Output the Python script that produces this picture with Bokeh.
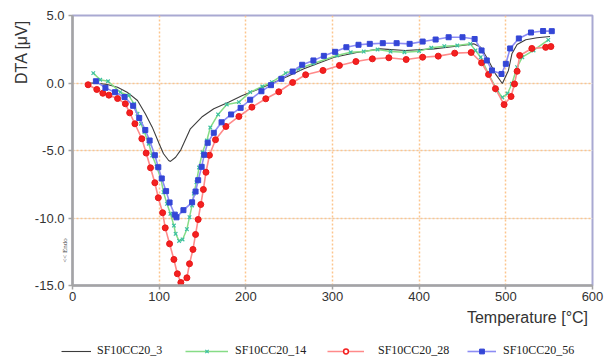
from bokeh.plotting import figure
from bokeh.layouts import column
from bokeh.models import Range1d, FixedTicker, Legend, LegendItem, LinearAxis, Grid, Title, Label
from bokeh.embed import file_html
from bokeh.resources import INLINE

# ---- data ----
x_ticks = [0, 100, 200, 300, 400, 500, 600]
x_tick_labels = ["0", "100", "200", "300", "400", "500", "600"]
y_ticks = [-15, -10, -5, 0, 5]
y_tick_labels = ["-15.0", "-10.0", "-5.0", "0.0", "5.0"]
endo_pos = [-12.4]
endo_text = ["<< Endo"]

series_names = ["SF10CC20_3", "SF10CC20_14", "SF10CC20_28", "SF10CC20_56"]

black_t = [21, 27, 40, 52, 63, 75, 84, 92, 100, 105, 111, 113, 119, 125, 136, 150, 163, 180, 196, 213,
           229, 246, 267, 302, 328, 355, 384, 417, 445, 463, 471, 480, 488, 496, 503, 507, 513, 523, 536, 551]
black_v = [0.0, -0.01, -0.11, -0.31, -0.68, -1.30, -2.28, -3.27, -4.50, -5.24, -5.74, -5.81, -5.50, -4.95, -3.39,
           -2.48, -1.91, -1.42, -0.93, -0.50, -0.06, 0.43, 1.05, 1.91, 2.26, 2.53, 2.41, 2.53, 2.74, 2.90,
           2.65, 1.67, 0.68, -0.04, 0.93, 2.16, 2.85, 3.20, 3.35, 3.44]

green_t = [24, 32, 41, 55, 65, 71, 75, 79, 83, 88, 92, 97, 102, 105, 109, 113, 117, 119, 123, 127,
           132, 135, 138, 140, 143, 146, 150, 155, 159, 168, 178, 192, 205, 219, 230, 246, 261, 278, 305, 321,
           336, 352, 367, 383, 400, 414, 429, 444, 459, 465, 471, 480, 490, 496, 502, 507, 513, 519, 532, 549]
green_v = [0.73, 0.24, 0.13, -0.68, -0.93, -1.54, -2.28, -3.02, -3.64, -4.50, -5.37, -6.19, -7.10, -8.09, -8.95,
           -9.69, -10.56, -11.17, -11.70, -11.59, -10.83, -9.94, -9.07, -8.19, -7.35, -6.26, -5.13, -4.26, -3.30,
           -2.33, -1.59, -1.42, -0.68, -0.26, 0.06, 0.73, 1.05, 1.45, 2.04, 2.28, 2.33, 2.48, 2.33, 2.28, 2.36,
           2.61, 2.73, 2.78, 2.90, 2.41, 1.91, 0.68, -0.56, -1.07, -0.78, -0.06, 1.17, 1.91, 2.41, 3.19]

red_t = [18, 28, 35, 42, 52, 61, 66, 72, 80, 85, 90, 95, 99, 104, 107, 112, 117, 121, 125, 132,
         135, 139, 142, 145, 148, 151, 154, 158, 165, 177, 192, 207, 223, 238, 254, 269, 289, 308, 327, 346,
         365, 385, 404, 422, 441, 460, 472, 480, 488, 498, 506, 510, 513, 516, 530, 546, 552]
red_v = [-0.13, -0.48, -0.76, -0.90, -1.15, -1.54, -2.21, -3.02, -4.13, -5.19, -6.28, -7.39, -8.50, -9.61,
         -10.73, -11.91, -13.07, -14.13, -14.78, -14.43, -13.39, -12.33, -11.22, -10.11, -9.00, -7.89, -6.61,
         -5.35, -4.20, -3.22, -2.48, -1.79, -1.17, -0.65, 0.04, 0.61, 0.93, 1.30, 1.59, 1.79, 1.87, 1.74,
         1.91, 1.99, 2.21, 2.26, 1.50, 0.63, -0.42, -1.60, -1.00, -0.07, 0.87, 2.04, 2.56, 2.64, 2.70]

blue_t = [27, 38, 49, 60, 70, 77, 84, 89, 95, 99, 103, 108, 112, 118, 120, 128, 138, 142, 145, 149,
          152, 156, 163, 172, 183, 194, 205, 218, 229, 241, 254, 265, 278, 290, 303, 316, 330, 343, 358, 374,
          389, 404, 419, 434, 450, 464, 472, 478, 484, 495, 500, 505, 515, 529, 543, 553]
blue_v = [0.13, -0.36, -0.68, -1.04, -1.69, -2.59, -3.48, -4.26, -5.35, -6.24, -7.07, -8.01, -8.85, -9.75,
          -9.95, -9.42, -8.84, -8.04, -7.20, -6.21, -5.32, -4.43, -3.69, -2.91, -2.33, -1.84, -1.24, -0.61,
          -0.16, 0.31, 0.85, 1.35, 1.67, 2.01, 2.31, 2.65, 2.83, 2.90, 2.95, 2.95, 2.90, 3.07, 3.22, 3.39,
          3.39, 3.26, 2.41, 1.67, 0.93, 0.67, 1.42, 2.56, 3.30, 3.74, 3.85, 3.84]

SANS = "Liberation Sans"
SERIF = "Liberation Serif"
AXIS_GRAY = "#a4a4a4"
TEXT = "#333333"

# series styles
STY = {
    "black": dict(line_color="#3c3c3c", line_width=1.1),
    "green_l": dict(line_color="#86dc86", line_width=1.5),
    "green_m": dict(marker="x", size=5, line_color="#3cc0a0", line_width=1.2),
    "red_l": dict(line_color="#ff8a8a", line_width=1.6),
    "red_m": dict(marker="circle", size=6, fill_color="#f42020", line_color="#e81818", line_width=1),
    "red_key": dict(marker="circle", size=6, fill_color="white", line_color="#f42020", line_width=1.5),
    "blue_l": dict(line_color="#8c8cf4", line_width=1.6),
    "blue_m": dict(marker="square", size=5, fill_color="#3446d6", line_color="#3446d6"),
}

# ---------------- main chart ----------------
p = figure(width=608, height=308, output_backend="svg", toolbar_location=None,
           x_range=Range1d(0, 600), y_range=Range1d(-15, 5), y_axis_location=None,
           min_border_left=72, min_border_right=16, min_border_top=15, min_border_bottom=23)
p.background_fill_color = "white"
p.border_fill_color = "white"
p.outline_line_color = "#a9a9d2"
p.outline_line_width = 2

xa = p.xaxis[0]
xa.ticker = FixedTicker(ticks=x_ticks)
xa.major_label_overrides = {t: s for t, s in zip(x_ticks, x_tick_labels)}
xa.axis_line_color = AXIS_GRAY
xa.axis_line_width = 2.5
xa.major_tick_line_color = AXIS_GRAY
xa.major_tick_line_width = 1.5
xa.major_tick_out = 4
xa.major_tick_in = 0
xa.minor_tick_line_color = None
xa.major_label_standoff = 2
xa.major_label_text_font = SANS
xa.major_label_text_font_size = "13px"
xa.major_label_text_color = TEXT

# inner y axis: axis line, tick marks and the "<< Endo" note
ya_in = LinearAxis(ticker=FixedTicker(ticks=endo_pos, minor_ticks=y_ticks),
                   major_label_overrides={t: s for t, s in zip(endo_pos, endo_text)})
ya_in.axis_line_color = AXIS_GRAY
ya_in.axis_line_width = 2.5
ya_in.major_tick_line_color = None
ya_in.major_tick_out = 0
ya_in.major_tick_in = 0
ya_in.minor_tick_line_color = AXIS_GRAY
ya_in.minor_tick_line_width = 1.5
ya_in.minor_tick_out = 4
ya_in.minor_tick_in = 0
ya_in.major_label_orientation = "parallel"
ya_in.major_label_standoff = -1
ya_in.major_label_text_font = SERIF
ya_in.major_label_text_font_size = "7px"
ya_in.major_label_text_color = "#444444"
p.add_layout(ya_in, "left")

# outer y axis: numeric tick labels
ya_out = LinearAxis(ticker=FixedTicker(ticks=y_ticks),
                    major_label_overrides={t: s for t, s in zip(y_ticks, y_tick_labels)})
ya_out.axis_line_color = None
ya_out.major_tick_line_color = None
ya_out.major_tick_out = 0
ya_out.major_tick_in = 0
ya_out.minor_tick_line_color = None
ya_out.major_label_standoff = -6
ya_out.major_label_text_font = SANS
ya_out.major_label_text_font_size = "13px"
ya_out.major_label_text_color = TEXT
p.add_layout(ya_out, "left")

p.add_layout(Title(text="DTA  [μV]", align="right", text_font=SANS, text_font_size="16px",
                   text_font_style="normal", text_color=TEXT, standoff=4), "left")

p.xgrid.grid_line_color = "#fcc58e"
p.xgrid.grid_line_width = 1.5
p.xgrid.grid_line_dash = "2 2"
p.add_layout(Grid(dimension=1, ticker=FixedTicker(ticks=y_ticks), grid_line_color="#fcc58e",
                  grid_line_width=1.5, grid_line_dash="2 2"))

p.line(black_t, black_v, **STY["black"])
p.line(green_t, green_v, **STY["green_l"])
p.scatter(green_t, green_v, **STY["green_m"])
p.line(red_t, red_v, **STY["red_l"])
p.scatter(red_t, red_v, **STY["red_m"])
p.line(blue_t, blue_v, **STY["blue_l"])
p.scatter(blue_t, blue_v, **STY["blue_m"])

# ---------------- strip below: axis title and legend ----------------
# y range is placed above the data values so the key renderers stay out of view
q = figure(width=608, height=51, output_backend="svg", toolbar_location=None,
           x_range=Range1d(0, 608), y_range=Range1d(100, 151),
           x_axis_location=None, y_axis_location=None,
           min_border_left=0, min_border_right=0, min_border_top=0, min_border_bottom=0)
q.frame_align = False
q.outline_line_color = None
q.grid.visible = False
q.background_fill_color = "white"
q.border_fill_color = "white"

q.add_layout(Label(x=592, y=142, text="Temperature  [°C]", text_align="right", text_baseline="middle",
                   text_font=SANS, text_font_size="16px", text_color=TEXT))

k_b = q.line(black_t, black_v, **STY["black"])
k_gl = q.line(green_t, green_v, **STY["green_l"])
k_gm = q.scatter(green_t, green_v, **STY["green_m"])
k_rl = q.line(red_t, red_v, **STY["red_l"])
k_rm = q.scatter(red_t, red_v, **STY["red_key"])
k_bl = q.line(blue_t, blue_v, **STY["blue_l"])
k_bm = q.scatter(blue_t, blue_v, **STY["blue_m"])

legend_specs = [
    (series_names[0], [k_b], 61, 30, 6),
    (series_names[1], [k_gl, k_gm], 185, 43, 7),
    (series_names[2], [k_rl, k_rm], 327, 37, 14),
    (series_names[3], [k_bl, k_bm], 467, 29, 7),
]
for name, rends, lx, gw, so in legend_specs:
    lg = Legend(items=[LegendItem(label=name, renderers=rends)], location=(lx, 1),
                orientation="horizontal")
    lg.border_line_color = None
    lg.background_fill_alpha = 0
    lg.padding = 0
    lg.margin = 0
    lg.glyph_width = gw
    lg.glyph_height = 12
    lg.label_height = 12
    lg.label_standoff = so
    lg.label_text_font = SERIF
    lg.label_text_font_size = "12px"
    lg.label_text_color = "#222222"
    q.add_layout(lg, "center")

layout = column(p, q, spacing=0)
open("out.html", "w").write(file_html(layout, INLINE))
